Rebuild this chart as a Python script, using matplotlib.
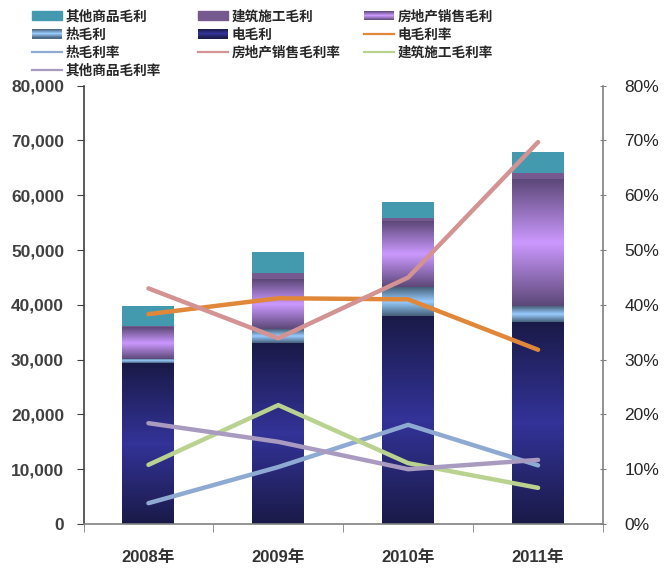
import numpy as np
import matplotlib
matplotlib.use('Agg')
import matplotlib.pyplot as plt
from matplotlib.colors import LinearSegmentedColormap
from matplotlib.patches import Rectangle, Patch
from matplotlib.lines import Line2D
from matplotlib.legend_handler import HandlerBase
from matplotlib.ticker import FuncFormatter, MultipleLocator, FixedLocator

plt.rcParams['font.family'] = ['Liberation Sans', 'Noto Sans CJK SC', 'DejaVu Sans']

# 毛利 (left axis) and 毛利率 (right axis, %)
years = ['2008年', '2009年', '2010年', '2011年']
power_profit = [29300, 33100, 38000, 36900]     # 电毛利
heat_profit = [800, 2500, 5200, 2900]           # 热毛利
estate_profit = [5700, 9100, 11900, 23100]      # 房地产销售毛利
build_profit = [300, 1100, 800, 1100]           # 建筑施工毛利
other_profit = [3600, 3850, 2900, 3800]         # 其他商品毛利

power_margin = [38.3, 41.2, 41.0, 31.8]
estate_margin = [43.0, 33.9, 45.0, 69.7]
heat_margin = [3.8, 10.4, 18.1, 10.7]
build_margin = [10.8, 21.7, 11.1, 6.6]
other_margin = [18.4, 15.0, 10.0, 11.7]

NAVY = ('#1a1a48', '#333399')
SKY = ('#456079', '#99ccff')
LILAC = ('#5c4878', '#cc99ff')


class GradientKey:
    def __init__(self, edge, mid):
        self.cmap = LinearSegmentedColormap.from_list('g', [edge, mid, edge])


class GradientHandler(HandlerBase):
    def create_artists(self, legend, key, xd, yd, width, height, fontsize, trans):
        n = 9
        arts = []
        for i in range(n):
            r = Rectangle((-xd, -yd + i * height / n), width, height / n,
                          facecolor=key.cmap((i + 0.5) / n), edgecolor='none',
                          transform=trans)
            arts.append(r)
        return arts


def shade_bars(ax, bars, colors):
    cmap = LinearSegmentedColormap.from_list('g', [colors[0], colors[1], colors[0]])
    grad = np.linspace(0, 1, 128).reshape(-1, 1)
    for b in bars:
        x0, y0 = b.get_x(), b.get_y()
        w, h = b.get_width(), b.get_height()
        ax.imshow(grad, cmap=cmap, aspect='auto', origin='lower',
                  extent=(x0, x0 + w, y0, y0 + h), interpolation='bilinear',
                  zorder=2)
        b.set_facecolor('none')


fig = plt.figure(figsize=(6.66, 5.71), dpi=100)
ax = fig.add_axes([0.1254, 0.0823, 0.7800, 0.7677])
x = np.arange(len(years))
w = 0.4

bottom = np.zeros(len(years))
b_power = ax.bar(x, power_profit, w, bottom=bottom, linewidth=0, zorder=2)
bottom += power_profit
b_heat = ax.bar(x, heat_profit, w, bottom=bottom, linewidth=0, zorder=2)
bottom += heat_profit
b_estate = ax.bar(x, estate_profit, w, bottom=bottom, linewidth=0, zorder=2)
bottom += estate_profit
ax.bar(x, build_profit, w, bottom=bottom, color='#76598f', linewidth=0, zorder=2)
bottom += build_profit
ax.bar(x, other_profit, w, bottom=bottom, color='#439aae', linewidth=0, zorder=2)

shade_bars(ax, b_power, NAVY)
shade_bars(ax, b_heat, SKY)
shade_bars(ax, b_estate, LILAC)

ax.set_xlim(-0.5, 3.5)
ax.set_ylim(0, 80000)
ax.yaxis.set_major_locator(MultipleLocator(10000))
ax.yaxis.set_major_formatter(FuncFormatter(lambda v, p: f'{int(v):,}'))
ax.set_xticks(x)
ax.set_xticklabels(years, fontsize=12, fontweight='bold', color='#333333')
ax.xaxis.set_minor_locator(FixedLocator([-0.5, 0.5, 1.5, 2.5, 3.5]))
ax.tick_params(axis='x', which='major', length=0, pad=19)
ax.tick_params(axis='x', which='minor', length=6, color='#808080', direction='out')
ax.tick_params(axis='y', length=5, color='#404040', labelsize=12.5, labelcolor='#404040', pad=9)
for lbl in ax.get_yticklabels():
    lbl.set_fontweight('bold')
ax.spines['top'].set_visible(False)
ax.spines['right'].set_visible(False)
ax.spines['left'].set_color('#404040')
ax.spines['left'].set_linewidth(1.2)
ax.spines['bottom'].set_color('#808080')
ax.spines['bottom'].set_linewidth(1.2)

ax2 = ax.twinx()
lw = 3.2
ax2.plot(x, power_margin, color='#e0873a', lw=lw, solid_capstyle='round')
ax2.plot(x, estate_margin, color='#d39392', lw=lw, solid_capstyle='round')
ax2.plot(x, heat_margin, color='#8eaad2', lw=lw, solid_capstyle='round')
ax2.plot(x, build_margin, color='#b9d290', lw=lw, solid_capstyle='round')
ax2.plot(x, other_margin, color='#a99bbf', lw=lw, solid_capstyle='round')
ax2.set_ylim(0, 80)
ax2.yaxis.set_major_locator(MultipleLocator(10))
ax2.yaxis.set_major_formatter(FuncFormatter(lambda v, p: f'{int(v)}%'))
ax2.tick_params(axis='y', length=5, direction='inout', color='#808080',
                labelsize=12.5, labelcolor='#262626', pad=13)
for s in ('top', 'left', 'bottom'):
    ax2.spines[s].set_visible(False)
ax2.spines['right'].set_color('#808080')
ax2.spines['right'].set_linewidth(1.2)

# legend: three fixed-width columns
cols = [
    [(Patch(color='#439aae'), '其他商品毛利'),
     (GradientKey(*SKY), '热毛利'),
     (Line2D([], [], color='#8eaad2', lw=1.6), '热毛利率'),
     (Line2D([], [], color='#a99bbf', lw=1.6), '其他商品毛利率')],
    [(Patch(color='#76598f'), '建筑施工毛利'),
     (GradientKey(*NAVY), '电毛利'),
     (Line2D([], [], color='#d39392', lw=1.6), '房地产销售毛利率')],
    [(GradientKey(*LILAC), '房地产销售毛利'),
     (Line2D([], [], color='#e0873a', lw=1.6), '电毛利率'),
     (Line2D([], [], color='#b9d290', lw=1.6), '建筑施工毛利率')],
]
for i, col in enumerate(cols):
    handles = [h for h, _ in col]
    labels = [l for _, l in col]
    fig.legend(handles, labels, loc='upper left',
               bbox_to_anchor=(0.048 + i * 0.2493, 0.9835),
               frameon=False, borderpad=0, borderaxespad=0,
               handlelength=2.2, handletextpad=0.25, labelspacing=0.3,
               prop={'family': ['Noto Sans CJK SC'], 'weight': 'bold', 'size': 9.8},
               labelcolor='#262626',
               handler_map={GradientKey: GradientHandler()})

fig.savefig('out.png', dpi=100)
